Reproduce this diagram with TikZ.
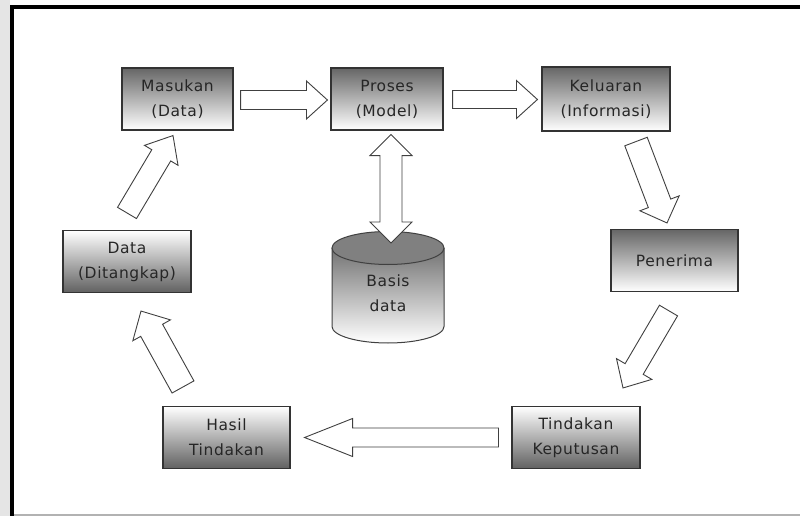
\documentclass[tikz,border=0pt]{standalone}
\usepackage{fontspec}
\usetikzlibrary{calc}
\newfontfamily\lblfont[LetterSpace=4]{DejaVu Sans}

% block arrow: tail, tip, shaft half width, head half width, head length
\newcommand{\blockarrow}[5]{%
  \path ($(#2)!#5!(#1)$) coordinate (hb);
  \draw[fatarrow]
    ($(#1)!#3!90:(#2)$) -- ($(hb)!#3!90:(#2)$) -- ($(hb)!#4!90:(#2)$) --
    (#2) --
    ($(hb)!#4!-90:(#2)$) -- ($(hb)!#3!-90:(#2)$) -- ($(#1)!#3!-90:(#2)$) -- cycle;
}
% double-headed block arrow between two points
\newcommand{\dblarrow}[5]{%
  \path ($(#1)!#5!(#2)$) coordinate (ha) ($(#2)!#5!(#1)$) coordinate (hb);
  \draw[fatarrow]
    (#1) -- ($(ha)!#4!90:(#1)$) -- ($(ha)!#3!90:(#1)$) --
    ($(hb)!#3!-90:(#2)$) -- ($(hb)!#4!-90:(#2)$) -- (#2) --
    ($(hb)!#4!90:(#2)$) -- ($(hb)!#3!90:(#2)$) --
    ($(ha)!#3!-90:(#1)$) -- ($(ha)!#4!-90:(#1)$) -- cycle;
}

\tikzset{
  lbl/.style={font=\lblfont\fontsize{15.5}{25}\selectfont, text=black!85, align=center},
  box/.style={lbl, draw=black!80, line width=1.1pt, minimum height=62pt, inner sep=0pt},
  darktop/.style={box, top color=black!60, bottom color=white},
  darkbottom/.style={box, top color=white, bottom color=black!62},
  fatarrow/.style={draw=black!75, fill=white, line width=0.9pt, line join=miter},
}

\begin{document}
\begin{tikzpicture}[x=1pt, y=-1pt]
\useasboundingbox (0,0) rectangle (800,516);
\fill[white] (0,0) rectangle (800,516);

% outer frame
\fill[black!10] (0,0) rectangle (10,516);
\fill[black] (10,5) rectangle (800,9);
\fill[black] (10,5) rectangle (14,516);
\fill[black!30] (14,513.5) rectangle (800,515.5);

% process boxes
\node[darktop, minimum width=111pt] (mas) at (177.5,99) {Masukan\\(Data)};
\node[darktop, minimum width=112pt] (pro) at (387,99) {Proses\\(Model)};
\node[darktop, minimum width=128pt, minimum height=64pt] (kel) at (606,99) {Keluaran\\(Informasi)};
\node[darktop, minimum width=127pt] (pen) at (674.5,260.5) {Penerima};
\node[darkbottom, minimum width=128pt] (dat) at (127,261.5) {Data\\(Ditangkap)};
\node[darkbottom, minimum width=127pt] (has) at (226.5,437.5) {Hasil\\Tindakan};
\node[darkbottom, minimum width=128pt] (tin) at (576,437.5) {Tindakan\\Keputusan};

% database cylinder
\path[top color=black!55, bottom color=white]
  (332,248) -- (332,326.5) arc[start angle=180, end angle=0, x radius=56, y radius=16.5]
  -- (444,248) -- cycle;
\draw[black!75, line width=1pt]
  (332,248) -- (332,326.5) arc[start angle=180, end angle=0, x radius=56, y radius=16.5]
  -- (444,248);
\draw[black!75, line width=1pt, fill=black!50] (388,248) ellipse [x radius=56, y radius=16.5];
\node[lbl] (db) at (388,293) {Basis\\data};
\coordinate (dbtop) at (391,243);

% connector end points
\coordinate (a1s) at ($(mas.east)+(7,1)$);
\coordinate (a1e) at ($(pro.west)+(-3,1)$);
\coordinate (a2s) at ($(pro.east)+(9,0.5)$);
\coordinate (a2e) at ($(kel.west)+(-4,0.5)$);
\coordinate (a3s) at ($(kel.south)+(30,10)$);
\coordinate (a3e) at ($(pen.north)+(-7.5,-6)$);
\coordinate (a4s) at ($(pen.south)+(-6,18.5)$);
\coordinate (a4e) at ($(tin.north)+(47,-18)$);
\coordinate (a5s) at ($(tin.west)+(-13,0)$);
\coordinate (a5e) at ($(has.east)+(14,0)$);
\coordinate (a6s) at ($(has.north)+(-43.5,-19)$);
\coordinate (a6e) at ($(dat.south)+(14,18)$);
\coordinate (a7s) at ($(dat.north)+(0,-17)$);
\coordinate (a7e) at ($(mas.south)+(-4.5,5)$);
\coordinate (a8s) at ($(pro.south)+(4,4)$);

% block arrows
\blockarrow{a1s}{a1e}{9.5pt}{19pt}{21pt}
\blockarrow{a2s}{a2e}{9pt}{19pt}{21pt}
\blockarrow{a3s}{a3e}{12pt}{21pt}{21pt}
\blockarrow{a4s}{a4e}{10.5pt}{20.5pt}{22pt}
\blockarrow{a5s}{a5e}{9.5pt}{19pt}{48pt}
\blockarrow{a6s}{a6e}{12.5pt}{21.5pt}{22pt}
\blockarrow{a7s}{a7e}{11pt}{19.5pt}{23pt}
\dblarrow{a8s}{dbtop}{11pt}{21pt}{21pt}
\end{tikzpicture}
\end{document}
